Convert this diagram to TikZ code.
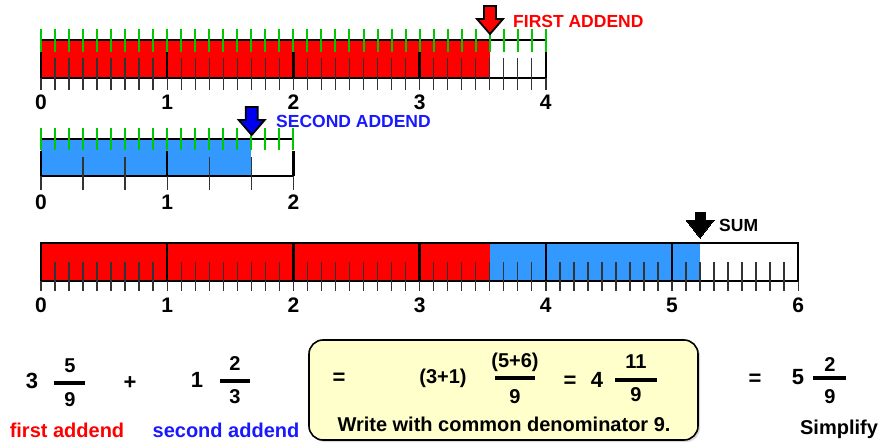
\documentclass[tikz,border=0pt]{standalone}
\usepackage{fontspec}
\setmainfont{Liberation Sans}
\usetikzlibrary{positioning}
\definecolor{addendred}{RGB}{255,0,0}
\definecolor{addendblue}{RGB}{51,153,255}
\definecolor{labelblue}{RGB}{25,25,255}
\definecolor{pointerblue}{RGB}{0,0,240}
\definecolor{tickgreen}{RGB}{0,200,0}
\definecolor{boxyellow}{RGB}{255,255,204}
\tikzset{
    green tick/.style={tickgreen,line width=2pt},
    minor tick/.style={black!80,line width=1.4pt},
    major tick/.style={black,line width=2.4pt},
    bar line/.style={black,line width=2pt},
    axis num/.style={font=\fontsize{21}{21}\selectfont\bfseries,inner sep=0pt},
    tag/.style={font=\fontsize{17.5}{18}\selectfont\bfseries,inner sep=0pt,anchor=west},
    eq text/.style={font=\fontsize{20}{20}\selectfont\bfseries,inner sep=0pt},
    big num/.style={font=\fontsize{22}{22}\selectfont\bfseries,inner sep=0pt},
    frac bar/.style={black,line width=4.4pt},
}
% x, shaft top, head base, tip, fill
\newcommand{\pointer}[5]{%
    \filldraw[fill=#5,draw=black,line width=1.8pt,line join=miter]
        ({#1-6},#2) -- ({#1+6},#2) -- ({#1+6},#3) -- ({#1+13},#3)
        -- (#1,#4) -- ({#1-13},#3) -- ({#1-6},#3) -- cycle;}

\begin{document}
\begin{tikzpicture}[x=1pt,y=-1pt]
    \useasboundingbox (0,0) rectangle (881,444);

    % first addend: 3 5/9
    \fill[addendred] (41,40) rectangle ({41+32*126.2/9},78);
    \draw[bar line] (41,40) -- (546,40);
    \draw[bar line] (41,78) -- (546,78);
    \foreach \k in {0,...,36}
        \draw[minor tick] ({41+\k*126.2/9},58) -- ++(0,32);
    \foreach \n in {0,...,4} {
        \draw[major tick] ({41+\n*126.2},52) -- ++(0,26);
        \node[axis num] (top\n) at ({41+\n*126.2},102) {\n};
    }
    \foreach \k in {0,...,36}
        \draw[green tick] ({41+\k*126.2/9},29) -- ++(0,23);
    \pointer{490}{6}{19}{34}{addendred}
    \node[tag,text=addendred] (first) at (513,21) {FIRST ADDEND};

    % second addend: 1 2/3
    \fill[addendblue] (41,139) rectangle ({41+5*126.2/3},176);
    \draw[bar line] (41,139) -- (293.4,139);
    \draw[bar line] (41,176) -- (293.4,176);
    \foreach \k in {0,...,6}
        \draw[minor tick] ({41+\k*126.2/3},157) -- ++(0,33);
    \foreach \n in {0,...,2} {
        \draw[major tick] ({41+\n*126.2},151) -- ++(0,25);
        \node[axis num] (mid\n) at ({41+\n*126.2},202) {\n};
    }
    \foreach \k in {0,...,18}
        \draw[green tick] ({41+\k*126.2/9},128) -- ++(0,22);
    \pointer{251.7}{107}{120}{135}{pointerblue}
    \node[tag,text=labelblue] (second) at (276,121) {SECOND ADDEND};

    % sum: 5 2/9
    \fill[addendred] (41,243) rectangle ({41+32*126.2/9},281);
    \fill[addendblue] ({41+32*126.2/9},243) rectangle ({41+47*126.2/9},281);
    \draw[bar line] (41,243) rectangle (798.2,281);
    \foreach \k in {0,...,54}
        \draw[minor tick] ({41+\k*126.2/9},262) -- ++(0,29);
    \foreach \n in {0,...,6} {
        \draw[major tick] ({41+\n*126.2},243) -- ++(0,38);
        \node[axis num] (low\n) at ({41+\n*126.2},305) {\n};
    }
    \filldraw[black,line width=0pt]
        (695,212) -- (705,212) -- (705,220) -- (714,220)
        -- (700,238) -- (686,220) -- (695,220) -- cycle;
    \node[tag] (sum) at (719,225) {SUM};

    % equation row
    \node[big num] (w1) at (32,381) {3};
    \node[eq text] (n1) at (70,366) {5};
    \draw[frac bar] (54,383) -- (85,383);
    \node[eq text] (d1) at (70,400) {9};
    \node[big num] (plus) at (130,383) {+};
    \node[big num] (w2) at (197,380) {1};
    \node[eq text] (n2) at (235,364) {2};
    \draw[frac bar] (220,381) -- (250,381);
    \node[eq text] (d2) at (235,397) {3};
    \node[eq text,text=addendred] (lab1) at (67,430) {first addend};
    \node[eq text,text=labelblue] (lab2) at (226,430) {second addend};

    \fill[black!15,rounded corners=14pt] (311,342) rectangle (700,442);
    \draw[fill=boxyellow,rounded corners=14pt,line width=1.6pt] (309,340) rectangle (698,440);
    \node[big num] (eqA) at (339,379) {=};
    \node[eq text] (sum31) at (443,378) {(3+1)};
    \node[eq text] (n3) at (515,362) {(5+6)};
    \draw[frac bar] (495,378) -- (535,378);
    \node[eq text] (d3) at (515,397) {9};
    \node[big num] (eqB) at (570,382) {=};
    \node[big num] (w4) at (597,380) {4};
    \node[eq text] (n4) at (636,362) {11};
    \draw[frac bar] (615,380) -- (657,380);
    \node[eq text] (d4) at (636,395) {9};
    \node[eq text] (note) at (504,424) {Write with common denominator 9.};

    \node[big num] (eqC) at (755,380) {=};
    \node[big num] (w5) at (798,377) {5};
    \node[eq text] (n5) at (830,365) {2};
    \draw[frac bar] (813,378) -- (846,378);
    \node[eq text] (d5) at (830,397) {9};
    \node[eq text] (simp) at (839,429) {Simplify};
\end{tikzpicture}
\end{document}
